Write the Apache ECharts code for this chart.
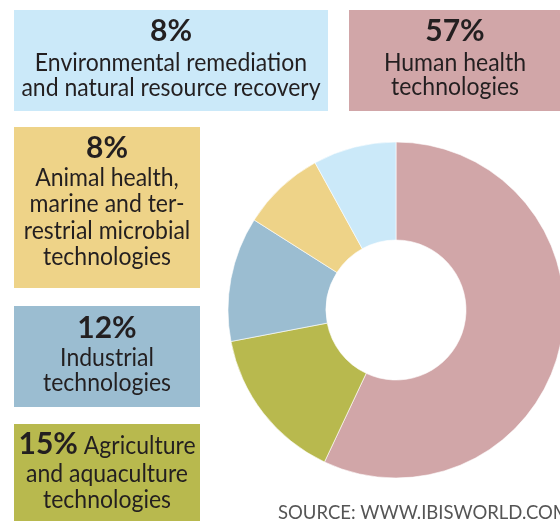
<!DOCTYPE html>
<html>
<head>
<meta charset="utf-8">
<script src="https://cdn.jsdelivr.net/npm/echarts@6/dist/echarts.min.js"></script>
<style>
html,body{margin:0;padding:0;background:#fff;}
#main{width:560px;height:521px;}
</style>
</head>
<body>
<div id="main"></div>
<script>
// ---- data ----
const categories = [
  'Human health technologies',
  'Agriculture and aquaculture technologies',
  'Industrial technologies',
  'Animal health, marine and terrestrial microbial technologies',
  'Environmental remediation and natural resource recovery'
];
const values = [57, 15, 12, 8, 8];
const labelLines = [
  ['Human health', 'technologies'],
  ['Agriculture', 'and aquaculture', 'technologies'],
  ['Industrial', 'technologies'],
  ['Animal health,', 'marine and ter-', 'restrial microbial', 'technologies'],
  ['Environmental remediation', 'and natural resource recovery']
];
const sourceText = 'SOURCE: WWW.IBISWORLD.COM';

// ---- style ----
const colors = ['#d1a6a8', '#b8b94e', '#9bbdd1', '#eed388', '#cbe9f9'];
const FAMILY = 'Lato';
const FONT = 'Lato, "Open Sans", sans-serif';
const INK = '#231f20';
const BODY_FS = 25, PCT_FS = 30, SQUEEZE = 0.92;

// box layouts: rect + percent baseline + line baselines + center x
const layout = [
  { rect: [349, 10, 230, 101], cx: 455, pct: 40.5, lines: [70, 94] },
  { rect: [14, 424, 186, 110], cx: 107, pct: null, lines: [453, 481, 507], inline: true },
  { rect: [14, 306, 186, 101], cx: 107, pct: 337, lines: [365, 390] },
  { rect: [14, 127, 186, 161], cx: 107, pct: 157, lines: [185, 211.5, 238, 264] },
  { rect: [14, 10, 314, 101], cx: 171, pct: 40, lines: [70, 95] }
];

const measureCtx = document.createElement('canvas').getContext('2d');
function measure(text, size, weight) {
  measureCtx.font = (weight || 'normal') + ' ' + size + 'px ' + FAMILY;
  return measureCtx.measureText(text).width;
}

function bodyText(x, baseline, text, align) {
  return {
    type: 'text', x: x, y: baseline - 0.3 * BODY_FS, scaleX: SQUEEZE,
    style: {
      x: 0, y: 0, text: text, fontFamily: FONT, fontSize: BODY_FS, fill: INK,
      align: align || 'center', verticalAlign: 'middle'
    }
  };
}
function pctTextEl(x, baseline, text, align) {
  return {
    type: 'text', x: x, y: baseline - 0.3 * PCT_FS,
    style: {
      x: 0, y: 0, text: text, fontFamily: FONT, fontSize: PCT_FS, fontWeight: 'bold', fill: INK,
      align: align || 'center', verticalAlign: 'middle'
    }
  };
}

const graphics = [];
layout.forEach((L, i) => {
  graphics.push({
    type: 'rect',
    shape: { x: L.rect[0], y: L.rect[1], width: L.rect[2], height: L.rect[3] },
    style: { fill: colors[i] },
    silent: true
  });
  const pctText = values[i] + '%';
  if (L.pct !== null) graphics.push(pctTextEl(L.cx, L.pct, pctText));
  labelLines[i].forEach((line, j) => {
    if (L.inline && j === 0) {
      const wb = measure(pctText, PCT_FS, 'bold');
      const rest = ' ' + line;
      const wr = measure(rest, BODY_FS) * SQUEEZE;
      const start = L.cx - (wb + wr) / 2;
      graphics.push(pctTextEl(start, L.lines[j], pctText, 'left'));
      graphics.push(bodyText(start + wb, L.lines[j], rest, 'left'));
    } else {
      graphics.push(bodyText(L.cx, L.lines[j], line));
    }
  });
});

graphics.push({
  type: 'text',
  style: {
    x: 278, y: 519 - 0.3 * 18.5, text: sourceText,
    fontFamily: FONT, fontSize: 18.5, fill: '#555555',
    align: 'left', verticalAlign: 'middle'
  }
});

const chart = echarts.init(document.getElementById('main'), null, { renderer: 'canvas' });
chart.setOption({
  animation: false,
  backgroundColor: '#ffffff',
  color: colors,
  graphic: graphics,
  series: [{
    type: 'pie',
    center: [396, 310],
    radius: [70, 168],
    startAngle: 90,
    clockwise: true,
    label: { show: false },
    labelLine: { show: false },
    emphasis: { disabled: true },
    itemStyle: { borderColor: '#ffffff', borderWidth: 0.6 },
    data: categories.map((c, i) => ({ name: c, value: values[i] }))
  }]
});
</script>
</body>
</html>
